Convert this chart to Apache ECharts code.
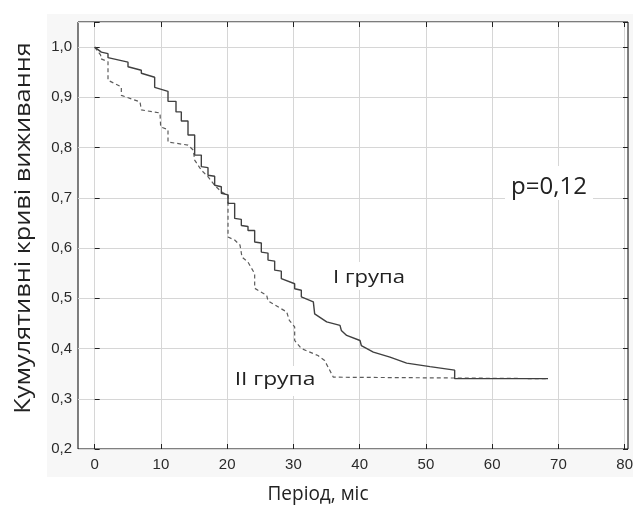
<!DOCTYPE html>
<html>
<head>
<meta charset="utf-8">
<script src="https://cdn.jsdelivr.net/npm/echarts@6.0.0/dist/echarts.min.js"></script>
<style>
  html, body { margin:0; padding:0; background:#fff; }
  #wrap { position:relative; width:636px; height:510px; }
  #panel { position:absolute; left:47px; top:14px; width:586px; height:463px; background:#f7f7f7; }
  #chart { position:absolute; left:0; top:0; width:636px; height:510px; }
</style>
</head>
<body>
<div id="wrap">
  <div id="panel"></div>
  <div id="chart"></div>
</div>
<script>
// survival curves, vertices [month, cumulative survival]
const groupI = [
  [0, 1.0], [1, 0.99], [2, 0.987], [2, 0.979], [5, 0.97], [5, 0.961], [7, 0.954], [7, 0.948],
  [9, 0.94], [9, 0.92], [11, 0.912], [11, 0.892], [12.2, 0.892], [12.2, 0.871], [13, 0.871],
  [13, 0.853], [14, 0.853], [14, 0.825], [15, 0.825], [15, 0.785], [16, 0.785], [16, 0.762],
  [17, 0.76], [17, 0.745], [18, 0.743], [18, 0.725], [19, 0.722], [19, 0.709], [20, 0.706],
  [20, 0.689], [21, 0.689], [21, 0.659], [22, 0.657], [22, 0.645], [23, 0.643], [23, 0.635],
  [24, 0.635], [24, 0.612], [25, 0.61], [25, 0.592], [26, 0.59], [26, 0.576], [27, 0.574],
  [27, 0.556], [28, 0.554], [28, 0.539], [30, 0.529], [30, 0.519], [31, 0.516], [31, 0.503],
  [32.8, 0.493], [33, 0.469], [34.8, 0.453], [36.8, 0.446], [37, 0.436], [37.8, 0.426],
  [39.8, 0.416], [40, 0.406], [41.8, 0.393], [44.3, 0.383], [46.8, 0.371], [50.3, 0.364],
  [54, 0.357], [54, 0.34], [68, 0.34]
];
const groupII = [
  [0, 1.0], [0.9, 0.984], [0.9, 0.977], [2, 0.971], [2, 0.934], [4, 0.921], [4, 0.904],
  [6.8, 0.891], [7, 0.875], [9.8, 0.869], [9.9, 0.841], [11, 0.836], [11, 0.811], [14, 0.805],
  [14.8, 0.795], [15, 0.775], [16, 0.755], [17, 0.742], [18, 0.725], [19, 0.712], [20, 0.705],
  [20, 0.622], [21, 0.616], [21.8, 0.606], [22.1, 0.582], [23, 0.572], [24, 0.549], [24, 0.52],
  [25.8, 0.506], [26, 0.495], [28, 0.479], [28.8, 0.473], [29.2, 0.456], [30, 0.443],
  [30, 0.416], [31, 0.4], [33.5, 0.386], [34.5, 0.376], [35.8, 0.343], [36, 0.34], [68, 0.34]
];
const xTicks = [0, 80, 10];           // min, max, step of the period axis
const yTicks = [0.2, 1.05, 0.1];      // min, max, step of the survival axis
const labelI = 'I група';
const labelII = 'II група';
const pLabel = 'p=0,12';
const xName = 'Період, міс';
const yName = 'Кумулятивні криві виживання';

const chart = echarts.init(document.getElementById('chart'));

const gridLeft = 78, gridRight = 8, gridTop = 22, gridBottom = 61;
const xPad = 2.5;
const plotW = 636 - gridLeft - gridRight;
const innerLeft = gridLeft + plotW * xPad / (xTicks[1] + xPad);

const tickFont = { color: '#2a2a2a', fontSize: 15, fontFamily: 'Liberation Sans, Arial, sans-serif' };
const gridColor = '#d6d6d6';
const annoFont = '"Open Sans", "Noto Sans", sans-serif';

function comma(v) { return v.toFixed(1).replace('.', ','); }

// plain text drawn straight on the canvas, optionally widened a bit
function label(text, x, y, size, sx, extra) {
  return Object.assign({
    type: 'text', x: x, y: y, z: 5, scaleX: sx || 1,
    style: { text: text, fill: '#222', font: size + 'px ' + annoFont, align: 'center', verticalAlign: 'middle' }
  }, extra || {});
}

const option = {
  animation: false,
  grid: [
    { left: gridLeft, right: gridRight, top: gridTop, bottom: gridBottom,
      show: true, backgroundColor: '#fff', borderColor: '#000', borderWidth: 1 },
    { left: innerLeft, right: gridRight, top: gridTop, bottom: gridBottom }
  ],
  xAxis: [
    { type: 'value', gridIndex: 0, min: -xPad, max: xTicks[1],
      axisLine: { show: false }, axisTick: { show: false }, axisLabel: { show: false },
      splitLine: { show: false } },
    { type: 'value', gridIndex: 1, min: xTicks[0], max: xTicks[1], interval: xTicks[2],
      position: 'bottom',
      axisLine: { show: false },
      axisTick: { show: true, inside: true, length: 5, lineStyle: { color: '#222' } },
      axisLabel: Object.assign({ margin: 8 }, tickFont),
      splitLine: { show: true, lineStyle: { color: gridColor, width: 1 } } },
    { type: 'value', gridIndex: 1, min: xTicks[0], max: xTicks[1], interval: xTicks[2],
      position: 'top',
      axisLine: { show: false },
      axisTick: { show: true, inside: true, length: 5, lineStyle: { color: '#222' } },
      axisLabel: { show: false }, splitLine: { show: false } }
  ],
  yAxis: [
    { type: 'value', gridIndex: 0, min: yTicks[0], max: yTicks[1], interval: yTicks[2],
      position: 'left',
      axisLine: { show: false },
      axisTick: { show: true, inside: true, length: 5, lineStyle: { color: '#222' } },
      axisLabel: Object.assign({ margin: 6, formatter: (v) => v > 1.01 ? '' : comma(v) }, tickFont),
      splitLine: { show: true, lineStyle: { color: gridColor, width: 1 } } },
    { type: 'value', gridIndex: 0, min: yTicks[0], max: yTicks[1], interval: yTicks[2],
      position: 'right',
      axisLine: { show: false },
      axisTick: { show: true, inside: true, length: 5, lineStyle: { color: '#222' } },
      axisLabel: { show: false }, splitLine: { show: false } },
    { type: 'value', gridIndex: 1, min: yTicks[0], max: yTicks[1], show: false }
  ],
  series: [
    { name: labelI, type: 'line', xAxisIndex: 0, yAxisIndex: 0, data: groupI,
      symbol: 'none', z: 4,
      lineStyle: { color: '#404040', width: 1.4 } },
    { name: labelII, type: 'line', xAxisIndex: 0, yAxisIndex: 0, data: groupII,
      symbol: 'none', z: 3,
      lineStyle: { color: '#5c5c5c', width: 1.2, type: [4, 3] } }
  ],
  graphic: [
    { type: 'rect', shape: { x: 328, y: 262, width: 82, height: 28 }, style: { fill: '#fff' }, z: 2 },
    label(labelI, 369, 278, 19, 1.16),
    { type: 'rect', shape: { x: 230, y: 366, width: 88, height: 30 }, style: { fill: '#fff' }, z: 2 },
    label(labelII, 275, 380, 19, 1.2),
    { type: 'rect', shape: { x: 505, y: 166, width: 88, height: 34 }, style: { fill: '#fff' }, z: 2 },
    label(pLabel, 549, 187, 24, 1.0),
    label(xName, 318, 494, 20, 0.95),
    label(yName, 24, 228, 22, 1.15, { rotation: Math.PI / 2 })
  ]
};

chart.setOption(option);
</script>
</body>
</html>
